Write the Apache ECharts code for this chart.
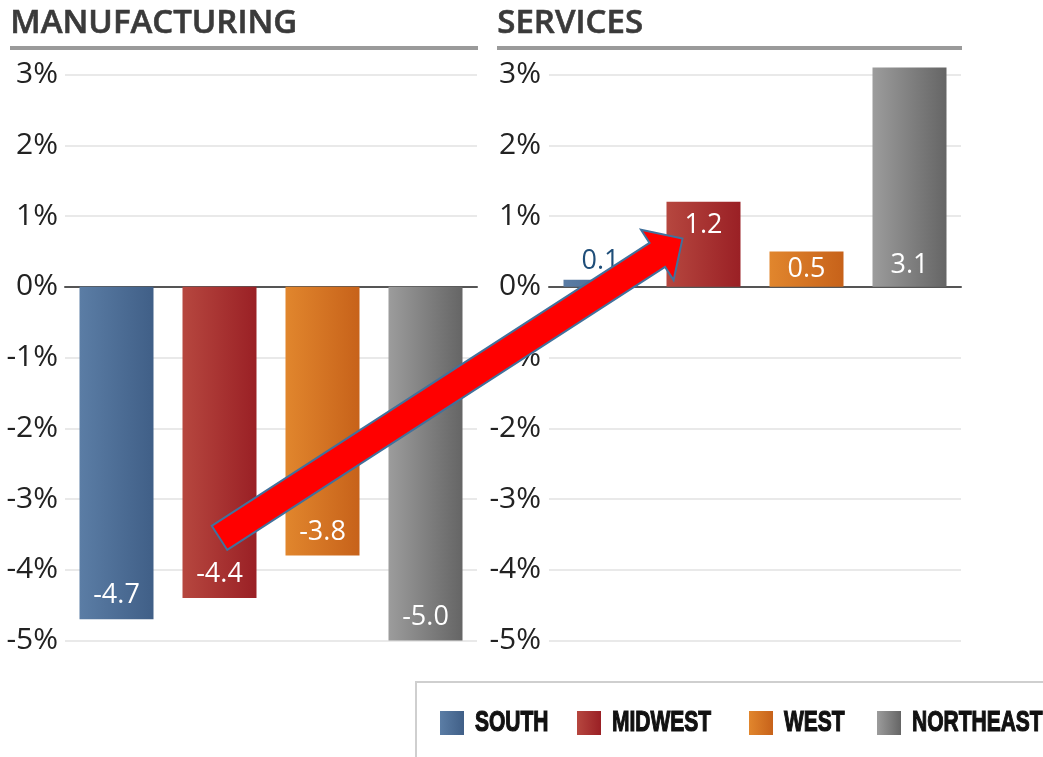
<!DOCTYPE html>
<html>
<head>
<meta charset="utf-8">
<script src="https://cdn.jsdelivr.net/npm/echarts@6/dist/echarts.min.js"></script>
<style>
html,body{margin:0;padding:0;background:#fff;}
#chart{width:1043px;height:757px;}
</style>
</head>
<body>
<div id="chart"></div>
<script>
// ---- data ----
const regions = ['SOUTH', 'MIDWEST', 'WEST', 'NORTHEAST'];
const manufacturing = [-4.7, -4.4, -3.8, -5.0];
const services = [0.1, 1.2, 0.5, 3.1];
const panelTitles = ['MANUFACTURING', 'SERVICES'];
const yMin = -5, yMax = 3, yStep = 1;
// label placement for the services panel (per region)
const servicesLabelPos = ['top', 'insideTop', 'inside', 'insideBottom'];
// arrow annotation anchors: [category, value] in manufacturing -> services
const arrowFrom = ['MIDWEST', -3.55];
const arrowTo = ['MIDWEST', 0.68];

const colorStops = [
  ['#5b7da5', '#405f87'],
  ['#b6473f', '#9a2025'],
  ['#e1862d', '#c7621a'],
  ['#9c9c9c', '#656565']
];
function grad(i) {
  return new echarts.graphic.LinearGradient(0, 0, 1, 0, [
    {offset: 0, color: colorStops[i][0]},
    {offset: 1, color: colorStops[i][1]}
  ]);
}

const axisFont = "'Open Sans',sans-serif";
const labelFont = "'Open Sans',sans-serif";

const chart = echarts.init(document.getElementById('chart'), null, {renderer: 'canvas'});

const grids = [
  {left: 65, top: 74.5, width: 412, bottom: 116.5},
  {left: 549, top: 74.5, width: 412, bottom: 116.5}
];

function xAxis(gi) {
  return {
    type: 'category', gridIndex: gi, data: regions,
    axisLabel: {show: false}, axisTick: {show: false},
    axisLine: {onZero: true, lineStyle: {color: '#555', width: 2}},
    splitLine: {show: false}
  };
}
function yAxis(gi, margin) {
  return {
    type: 'value', gridIndex: gi, min: yMin, max: yMax, interval: yStep,
    axisLine: {show: false}, axisTick: {show: false},
    axisLabel: {formatter: '{value}%', color: '#222', fontFamily: axisFont, fontSize: 30, margin: margin},
    splitLine: {lineStyle: {color: '#e2e2e2', width: 1.5}}
  };
}

const series = [];
regions.forEach(function (name, i) {
  const mData = regions.map(function (_, j) {
    return j === i ? {value: manufacturing[i]} : null;
  });
  series.push({
    type: 'bar', name: name, xAxisIndex: 0, yAxisIndex: 0,
    data: mData, barWidth: 74, barGap: '-100%', clip: false,
    itemStyle: {color: grad(i)},
    label: {
      show: true, position: 'insideBottom', distance: 10,
      color: '#fff', fontFamily: labelFont, fontSize: 27,
      formatter: function (p) { return p.value.toFixed(1); }
    }
  });
});
regions.forEach(function (name, i) {
  const pos = servicesLabelPos[i];
  const sData = regions.map(function (_, j) {
    return j === i ? {value: services[i]} : null;
  });
  series.push({
    type: 'bar', name: name, xAxisIndex: 1, yAxisIndex: 1,
    data: sData, barWidth: 74, barGap: '-100%', clip: false,
    itemStyle: {color: grad(i)},
    label: {
      show: true, position: pos,
      distance: pos === 'top' ? 5 : (pos === 'insideTop' ? 10 : 8),
      color: pos === 'top' ? '#1f4e79' : '#fff',
      fontFamily: labelFont, fontSize: 27,
      formatter: function (p) { return p.value.toFixed(1); }
    }
  });
});

// legend (drawn as graphics so the condensed heavy lettering can be matched)
const legendSquaresX = [440, 577, 749, 877];
const legendGraphics = [];
regions.forEach(function (name, i) {
  legendGraphics.push({
    type: 'rect', z: 20,
    shape: {x: legendSquaresX[i], y: 711, width: 24, height: 24},
    style: {fill: grad(i)}
  });
  legendGraphics.push({
    type: 'text', z: 20,
    x: legendSquaresX[i] + 35, y: 723, scaleX: 0.7,
    style: {
      text: name, fill: '#111', stroke: '#111', lineWidth: 1.2,
      font: "bold 30px 'Liberation Sans',Arial,sans-serif",
      textVerticalAlign: 'middle', textAlign: 'left'
    }
  });
});

const staticGraphics = [
  // panel titles
  {type: 'text', left: 10, top: 7, z: 10, style: {text: panelTitles[0], fill: '#3a3a3a', stroke: '#3a3a3a', lineWidth: 0.6, font: "600 33px 'Open Sans',sans-serif"}},
  {type: 'text', left: 497, top: 7, z: 10, style: {text: panelTitles[1], fill: '#3a3a3a', stroke: '#3a3a3a', lineWidth: 0.6, font: "600 33px 'Open Sans',sans-serif"}},
  // title underlines
  {type: 'rect', shape: {x: 10, y: 46, width: 468, height: 4}, style: {fill: '#9a9a9a'}, z: 10},
  {type: 'rect', shape: {x: 497, y: 46, width: 465, height: 4}, style: {fill: '#9a9a9a'}, z: 10},
  // legend frame
  {type: 'polyline', shape: {points: [[416, 757], [416, 682], [1043, 682]]}, style: {stroke: '#cfcfcf', lineWidth: 2, fill: null}, z: 10}
].concat(legendGraphics);

chart.setOption({
  animation: false,
  backgroundColor: '#fff',
  grid: grids,
  xAxis: [xAxis(0), xAxis(1)],
  yAxis: [yAxis(0, 7), yAxis(1, 8)],
  series: series,
  graphic: staticGraphics
});

// arrow annotation linking the two Midwest bars
function arrowPoints() {
  const p0 = chart.convertToPixel({gridIndex: 0}, arrowFrom);
  const p1 = chart.convertToPixel({gridIndex: 1}, arrowTo);
  p1[0] -= 21;
  const dx = p1[0] - p0[0], dy = p1[1] - p0[1];
  const L = Math.sqrt(dx * dx + dy * dy);
  const ux = dx / L, uy = dy / L;
  const nx = -uy, ny = ux;
  const hw = 14.3, headW = 30, headL = 30;
  const bx = p1[0] - ux * headL, by = p1[1] - uy * headL;
  return [
    [p0[0] - nx * hw, p0[1] - ny * hw],
    [bx - nx * hw, by - ny * hw],
    [bx - nx * headW, by - ny * headW],
    [p1[0], p1[1]],
    [bx + nx * headW, by + ny * headW],
    [bx + nx * hw, by + ny * hw],
    [p0[0] + nx * hw, p0[1] + ny * hw]
  ];
}
chart.setOption({
  graphic: staticGraphics.concat([{
    type: 'polygon', z: 100,
    shape: {points: arrowPoints()},
    style: {fill: '#ff0000', stroke: '#41719c', lineWidth: 2, lineJoin: 'miter'}
  }])
});
</script>
</body>
</html>
